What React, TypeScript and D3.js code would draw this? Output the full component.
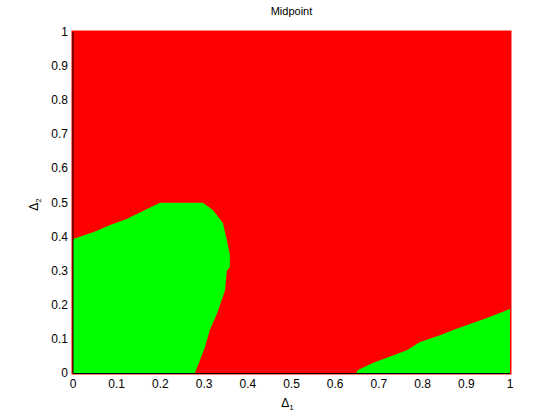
import React from "react";
import * as d3 from "d3";

// tick values for both axes
const ticks = [0, 0.1, 0.2, 0.3, 0.4, 0.5, 0.6, 0.7, 0.8, 0.9, 1];

// green region 1 (lower left lobe), traced clockwise from the origin
const lobeX = [0, 0, 0.046, 0.085, 0.124, 0.16, 0.199, 0.297, 0.32, 0.343, 0.352, 0.359, 0.359, 0.352, 0.348, 0.33, 0.313, 0.302, 0.288, 0.279];
const lobeY = [0, 0.393, 0.413, 0.434, 0.452, 0.475, 0.499, 0.499, 0.478, 0.44, 0.39, 0.346, 0.311, 0.3, 0.243, 0.176, 0.126, 0.076, 0.029, 0];

// green region 2 (lower right wedge)
const wedgeX = [0.648, 0.652, 0.686, 0.764, 0.794, 0.84, 0.87, 0.947, 1, 1];
const wedgeY = [0, 0.009, 0.029, 0.067, 0.091, 0.111, 0.126, 0.161, 0.188, 0];

const W = 560;
const H = 420;
const left = 73;
const right = 510;
const top = 32;
const bottom = 373;
const font = "'Liberation Sans', Arial, sans-serif";

export default function App() {
  const x = d3.scaleLinear().domain([0, 1]).range([left, right]);
  const y = d3.scaleLinear().domain([0, 1]).range([bottom, top]);

  const line = d3
    .line<[number, number]>()
    .x((d) => x(d[0]))
    .y((d) => y(d[1]));

  const lobe = line(lobeX.map((v, i) => [v, lobeY[i]] as [number, number])) + "Z";
  const wedge = line(wedgeX.map((v, i) => [v, wedgeY[i]] as [number, number])) + "Z";

  const pad = 1.5; // markers spill a little past the axes

  return (
    <svg
      width={W}
      height={H}
      style={{ position: "absolute", left: 0, top: 0, background: "#fff" }}
      fontFamily={font}
    >
      <rect
        x={x(0) - pad}
        y={y(1) - pad}
        width={x(1) - x(0) + 2 * pad}
        height={y(0) - y(1) + 2 * pad}
        fill="#ff0000"
      />
      <path d={lobe} fill="#00ff00" />
      <path d={wedge} fill="#00ff00" />

      {/* axes lines */}
      <line x1={left} x2={left} y1={top} y2={bottom} stroke="#000" />
      <line x1={left} x2={right} y1={bottom + 0.5} y2={bottom + 0.5} stroke="#000" />

      {ticks.map((t) => (
        <text
          key={"x" + t}
          x={x(t)}
          y={bottom + 15}
          fontSize={12}
          textAnchor="middle"
          fill="#000"
        >
          {t}
        </text>
      ))}
      {ticks.map((t) => (
        <text
          key={"y" + t}
          x={left - 5}
          y={y(t) + 4}
          fontSize={12}
          textAnchor="end"
          fill="#000"
        >
          {t}
        </text>
      ))}

      <text x={(left + right) / 2} y={15} fontSize={11} textAnchor="middle">
        Midpoint
      </text>
      <text x={(left + right) / 2 - 4} y={407} fontSize={12} textAnchor="middle">
        Δ<tspan fontSize={8} dy={3}>1</tspan>
      </text>
      <text
        transform={`translate(38,${(top + bottom) / 2 + 2}) rotate(-90)`}
        fontSize={12}
        textAnchor="middle"
      >
        Δ<tspan fontSize={8} dy={3}>2</tspan>
      </text>
    </svg>
  );
}
